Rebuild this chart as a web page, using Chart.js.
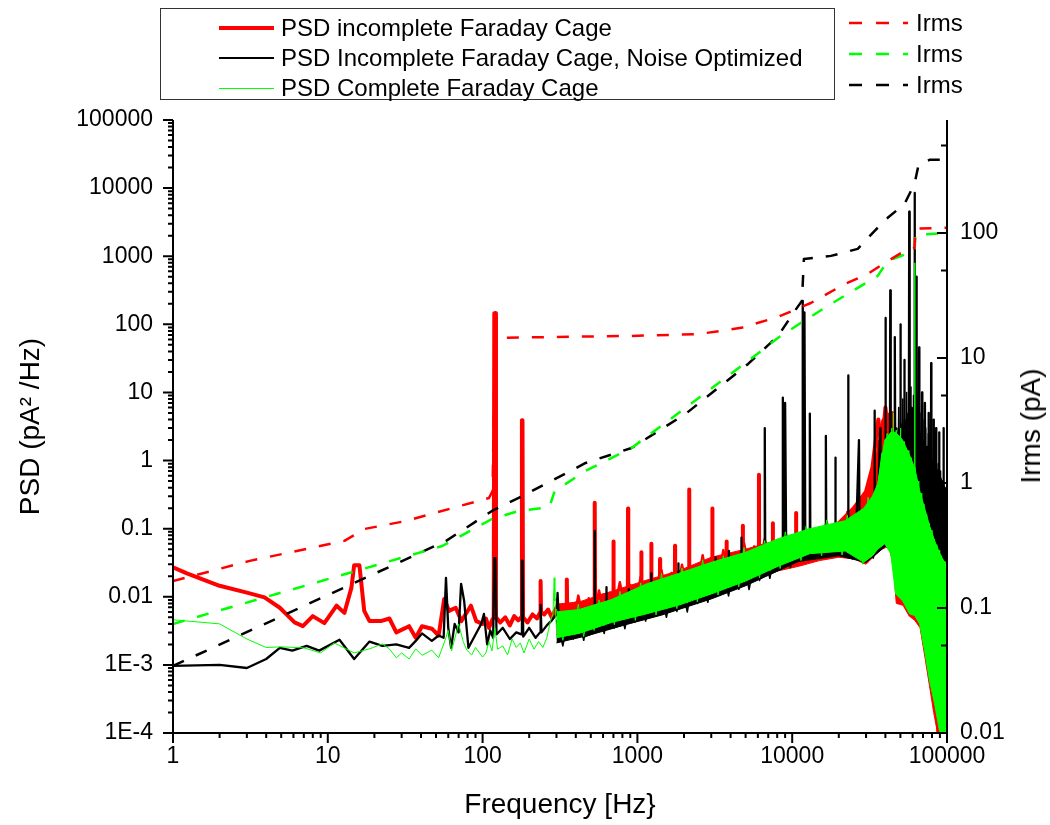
<!DOCTYPE html>
<html>
<head>
<meta charset="utf-8">
<script src="https://cdn.jsdelivr.net/npm/chart.js@4"></script>
<style>
html,body{margin:0;padding:0;background:#fff;}
#wrap{position:relative;width:1050px;height:825px;overflow:hidden;font-family:"Liberation Sans",Arial,sans-serif;color:#000;}
#c{position:absolute;left:0;top:0;}
.lgt{position:absolute;white-space:nowrap;font-size:24px;line-height:30px;height:30px;}
.smp{position:absolute;}
#legbox{position:absolute;left:160px;top:8px;width:675px;height:92px;border:1px solid #333;box-sizing:border-box;}
#rtitle{position:absolute;left:1031px;top:426px;transform:translate(-50%,-50%) rotate(-90deg);font-size:28px;white-space:nowrap;}
</style>
</head>
<body>
<div id="wrap">
<canvas id="c" width="1050" height="825"></canvas>
<div id="legbox"></div>
<div id="rtitle"></div>
</div>
<script>
// ---------- tick labels ----------
const xTicks = [1, 10, 100, 1000, 10000, 100000];
const xTickLabels = ['1', '10', '100', '1000', '10000', '100000'];
const yTicks = [1e-4, 1e-3, 0.01, 0.1, 1, 10, 100, 1000, 10000, 100000];
const yTickLabels = ['1E-4', '1E-3', '0.01', '0.1', '1', '10', '100', '1000', '10000', '100000'];
const y2Ticks = [0.01, 0.1, 1, 10, 100];
const y2TickLabels = ['0.01', '0.1', '1', '10', '100'];
const y2Minor = [0.05, 0.5, 5, 50, 500];

// ---------- legend texts / titles ----------
const psdNames = ['PSD incomplete Faraday Cage', 'PSD Incomplete Faraday Cage, Noise Optimized', 'PSD Complete Faraday Cage'];
const irmsNames = ['Irms', 'Irms', 'Irms'];
const xTitle = 'Frequency [Hz}';
const yTitle = 'PSD (pA\u00B2 /Hz)';
const y2Title = 'Irms (pA)';

// ---------- Irms (right axis), [freq Hz, pA] ----------
const irmsRed = [[1,0.164],[3.13,0.238],[12.8,0.344],[17.2,0.428],[32.1,0.497],[110,0.759],[116,0.863],[120,14.2],[127,14.5],[916,15.0],[2471,15.5],[4680,17.4],[8110,21.3],[13200,27.5],[21900,39.1],[30800,47],[39600,57.5],[53200,71.8],[61700,75.9],[62500,108],[100000,110]];
const irmsGreen = [[1,0.0745],[54.8,0.313],[115,0.515],[171,0.597],[270,0.64],[292,0.86],[463,1.25],[917,1.905],[2042,3.98],[5190,9.46],[8110,14.5],[11400,19.1],[17000,26.1],[35700,45.3],[41400,59.7],[61700,71.8],[62500,96.4],[100000,100]];
const irmsBlack = [[1,0.0344],[58.1,0.344],[115,0.597],[171,0.759],[463,1.445],[917,1.905],[2042,3.56],[5190,8.95],[8110,15.0],[10400,23.8],[11560,28.6],[11900,61.9],[17800,65.5],[26500,74.5],[34100,104],[41400,132],[53200,171],[61700,247],[65500,350],[77100,384],[100000,384]];

// ---------- PSD main traces (left axis), [freq Hz, pA^2/Hz] ----------
const redPSD = [[1,0.027],[1.23,0.022],[2,0.0145],[3,0.0115],[3.9,0.0098],[4.9,0.0069],[6.1,0.0042],[6.9,0.0037],[8,0.0052],[9.5,0.0041],[11.4,0.0074],[12.8,0.0058],[14.2,0.0135],[14.8,0.029],[16,0.029],[17.2,0.0062],[18.6,0.0044],[22,0.0044],[25,0.0048],[27.7,0.003],[33.5,0.0037],[37,0.0025],[40.6,0.0037],[47,0.0034],[52,0.0027],[56.5,0.0093],[60.7,0.0062],[67,0.0069],[73,0.0044],[84,0.0074],[91,0.0044],[100,0.004],[105,0.0048],[110,0.0035],[115,0.0045],[118,0.005],[119,145],[121,145],[122,0.005],[130,0.0042],[140,0.005],[150,0.0038],[160,0.0052],[170,0.0045],[178,0.005],[179.5,3.9],[181,3.9],[182.5,0.005],[195,0.0042],[210,0.0055],[225,0.0048],[236,0.006],[237,0.017],[238.5,0.006],[250,0.0055],[265,0.0065],[280,0.005],[300,0.007],[320,0.007],[348,0.007],[350,0.018],[352,0.007],[400,0.008],[450,0.0075],[528,0.009],[530,0.24],[533,0.009],[600,0.0105],[698,0.011],[700,0.065],[703,0.011],[780,0.012],[868,0.013],[870,0.197],[873,0.013],[950,0.014],[1058,0.015],[1060,0.045],[1063,0.015],[1228,0.017],[1230,0.06],[1233,0.017],[1398,0.018],[1400,0.036],[1403,0.018],[1600,0.02],[1747,0.021],[1750,0.056],[1753,0.021],[1950,0.022],[2155,0.024],[2160,0.375],[2165,0.024],[2600,0.027],[3045,0.029],[3050,0.197],[3055,0.029],[3400,0.03],[3765,0.032],[3770,0.065],[3775,0.032],[4300,0.035],[4795,0.037],[4800,0.11],[4805,0.037],[5500,0.04],[6090,0.043],[6100,0.62],[6110,0.043],[6800,0.047],[7490,0.05],[7500,0.12],[7510,0.05],[9000,0.055],[10590,0.06],[10600,0.17],[10610,0.06],[12000,0.07],[14000,0.09],[17000,0.1],[20000,0.12],[25000,0.2],[30000,0.35],[33000,0.8],[36000,4],[38000,1.5],[40000,6],[42000,2],[44000,5],[46000,0.5],[50000,0.2],[55000,0.1],[60000,0.07],[65000,0.05],[70000,0.02],[75000,0.005],[80000,0.001],[85000,0.0003],[88000,0.0001]];

const blackPSD = [[1,0.00097],[2,0.001],[3,0.0009],[4,0.00122],[4.9,0.00178],[5.9,0.00162],[7.3,0.0019],[8.8,0.00162],[11.9,0.00234],[14.8,0.00122],[18.6,0.0022],[22.5,0.0019],[27.7,0.002],[33.5,0.00178],[37,0.00225],[40.6,0.0029],[47,0.00225],[52,0.0027],[56,0.0025],[58,0.019],[60,0.0035],[62.6,0.00178],[66,0.004],[70,0.003],[72.6,0.0155],[76,0.0087],[81,0.00178],[90,0.0028],[98,0.004],[102,0.0056],[107,0.002],[112,0.0032],[117,0.0025],[119,0.037],[121,0.037],[123,0.0028],[135,0.0035],[150,0.0024],[165,0.003],[178,0.0028],[179.5,0.034],[181,0.034],[183,0.0026],[200,0.0035],[220,0.0025],[235,0.003],[237,0.0076],[240,0.003],[260,0.0038],[280,0.0045],[300,0.0055],[305,0.0114],[310,0.005],[330,0.0035],[360,0.0028],[400,0.0032],[450,0.0026],[528,0.003],[530,0.093],[533,0.003],[580,0.0035],[628,0.0045],[630,0.0138],[633,0.0045],[750,0.004],[878,0.005],[880,0.013],[883,0.005],[1000,0.0055],[1228,0.007],[1230,0.022],[1233,0.007],[1500,0.008],[1838,0.01],[1840,0.031],[1843,0.01],[2500,0.012],[3195,0.014],[3200,0.038],[3205,0.014],[3895,0.017],[3900,0.047],[3905,0.017],[4695,0.02],[4700,0.074],[4705,0.02],[5600,0.024],[6590,0.028],[6650,3],[6700,0.028],[7500,0.033],[8680,0.035],[8700,8.4],[8850,0.06],[9000,7],[9150,0.04],[10000,0.045],[11000,0.05],[11650,0.05],[11700,220],[11850,0.08],[12000,150],[12150,0.06],[12950,0.06],[13000,4.9],[13100,0.06],[14500,0.07],[16450,0.07],[16500,2.3],[16600,0.07],[18950,0.08],[19000,1.1],[19100,0.08],[21000,0.09],[22950,0.09],[23000,17.8],[23100,0.09],[26000,0.12],[27000,2],[27200,0.12],[30000,0.15],[33900,0.2],[34000,5.4],[34200,0.25],[36000,0.3],[37000,3],[37200,0.4],[39900,0.6],[40000,124],[40300,0.8],[42800,1],[43000,316],[43300,1.2],[45800,1.5],[46000,65],[46300,1.5],[48000,2],[49800,2],[50000,100],[50300,2],[52800,2],[53000,30],[53300,2],[56700,2],[57000,4500],[57400,2],[59000,3],[61400,3],[61700,8500],[62100,2.5],[63300,2.5],[63500,500],[63800,2],[65800,2],[66000,46],[66300,1.5],[68800,1.5],[69000,10],[69300,1.2],[71800,1.2],[72000,7],[72300,1],[75800,1],[76000,5],[76300,1],[78800,1],[79000,27],[79300,0.8],[81800,0.8],[82000,4],[82300,0.6],[84800,0.6],[85000,3],[85300,0.5],[88800,0.5],[89000,2.6],[89300,0.3],[92000,0.4],[94800,0.3],[95000,3],[95300,0.1],[98000,0.05],[100000,0.03]];

const greenPSD = [[1,0.0046],[2,0.004],[3,0.0024],[4,0.0018],[5,0.00184],[7,0.00178],[9,0.0015],[11,0.0021],[14.8,0.0015],[18.6,0.00172],[22.5,0.00203],[25,0.00172],[27.7,0.00127],[30,0.0015],[33.5,0.00122],[37,0.00172],[40.6,0.00138],[47,0.00165],[52,0.00127],[57,0.00225],[60,0.0032],[63,0.0016],[70,0.004],[75,0.0022],[79,0.00165],[85,0.0014],[90,0.0018],[100,0.0013],[105,0.0015],[110,0.0022],[115,0.0016],[120,0.0035],[125,0.0017],[135,0.0019],[145,0.0014],[155,0.0024],[165,0.0018],[175,0.0021],[185,0.0015],[200,0.0024],[215,0.0017],[230,0.0022],[245,0.0018],[260,0.0025],[275,0.0045],[285,0.0056],[290,0.019],[293,0.0087],[300,0.0035],[350,0.0045],[420,0.004],[500,0.0055],[600,0.005],[700,0.007],[850,0.0075],[1000,0.0095],[1300,0.011],[1600,0.014],[2000,0.015],[2500,0.019],[3000,0.02],[4000,0.026],[5000,0.028],[6000,0.035],[7000,0.036],[8000,0.045],[10000,0.05],[12000,0.06],[15000,0.07],[18000,0.08],[22000,0.085],[26000,0.1],[30000,0.12],[34000,0.2],[38000,0.5],[42000,1.2],[44800,1.2],[45000,5],[45300,1],[48000,1.2],[49800,1],[50000,3],[50300,0.8],[55000,0.5],[61500,0.5],[61800,800],[62100,0.4],[66000,0.15],[72000,0.05],[78000,0.01],[85000,0.002],[90000,0.0005],[95000,0.00015],[100000,0.0001]];

// ---------- read noise texture of the dense region, [freq Hz, pA^2/Hz] ----------
const redNoise = [[300,0.0094],[330,0.004],[355,0.0079],[385,0.0042],[415,0.0104],[450,0.0045],[485,0.0095],[525,0.005],[565,0.0124],[610,0.0057],[660,0.0114],[710,0.0064],[770,0.0163],[830,0.007],[900,0.0149],[970,0.0077],[1050,0.0196],[1130,0.0084],[1220,0.0176],[1320,0.0092],[1430,0.0247],[1540,0.01],[1660,0.0223],[1800,0.011],[1940,0.0295],[2100,0.0125],[2260,0.027],[2440,0.014],[2640,0.0408],[2850,0.016],[3080,0.039],[3320,0.018],[3590,0.0484],[3880,0.0205],[4190,0.0432],[4520,0.0235],[4880,0.062],[5270,0.027],[5690,0.055],[6150,0.031],[6640,0.07],[7170,0.036],[7740,0.064],[8360,0.043],[9030,0.089],[9750,0.05],[10500,0.079],[11400,0.058],[12300,0.099],[13300,0.064],[14300,0.088],[15500,0.066],[16700,0.126],[18000,0.068],[19500,0.121],[21000,0.068],[22700,0.176],[24500,0.06],[26500,0.207],[28600,0.05],[30900,0.46],[33400,0.06],[36000,2]];

const blackNoise = [[300,0.0045],[330,0.0019],[355,0.0048],[385,0.0024],[415,0.0052],[450,0.0023],[485,0.0058],[525,0.0031],[565,0.0065],[610,0.0029],[660,0.0074],[710,0.0035],[770,0.0081],[830,0.0034],[900,0.0088],[970,0.0043],[1050,0.0097],[1130,0.0044],[1220,0.0104],[1320,0.0055],[1430,0.0115],[1540,0.005],[1660,0.0126],[1800,0.0061],[1940,0.014],[2100,0.006],[2260,0.0158],[2440,0.008],[2640,0.018],[2850,0.0083],[3080,0.0203],[3320,0.0108],[3590,0.023],[3880,0.0103],[4190,0.0265],[4520,0.0129],[4880,0.03],[5270,0.0128],[5690,0.034],[6150,0.0174],[6640,0.04],[7170,0.0187],[7740,0.047],[8360,0.026],[9030,0.056],[9750,0.027],[10500,0.065],[11400,0.035],[12300,0.074],[13300,0.0366],[14300,0.079],[15500,0.041],[16700,0.081],[18000,0.0405],[19500,0.085],[21000,0.043],[22700,0.079],[24500,0.036],[26500,0.072],[28600,0.031],[30900,0.07],[33400,0.037],[36000,0.09],[38300,0.5],[39000,0.1],[39800,1.5],[40500,0.1],[41300,1],[42000,0.1],[42800,3],[43500,0.1],[44300,2],[45000,0.1],[45800,5],[46500,0.1],[47300,3],[48000,0.1],[48800,6],[49500,0.1],[50300,3.5],[51000,0.1],[51800,8],[52500,0.1],[53300,4],[54000,0.1],[54800,10],[55500,0.1],[56300,5],[57000,0.1],[57800,12],[58500,0.1],[59300,6],[60000,0.1],[60800,9],[61500,0.1],[62300,4],[63000,0.1],[63800,6],[64500,0.1],[65300,3],[66000,0.1],[66800,5],[67500,0.1],[68300,2.5],[69000,0.1],[69800,4],[70500,0.1],[71300,2],[72000,0.1],[72800,3],[73500,0.08],[74300,1.6],[75000,0.08],[75800,2.5],[76500,0.07],[77300,1.3],[78000,0.06],[78800,2],[79500,0.06],[80300,1],[81000,0.05],[81800,1.5],[82500,0.05],[83300,0.8],[84000,0.04],[84800,1.2],[85500,0.04],[86300,0.6],[87000,0.035],[87800,0.9],[88500,0.03],[89300,0.45],[90000,0.03],[90800,0.7],[91500,0.025],[92300,0.35],[93000,0.025],[93800,0.5],[94500,0.022],[95300,0.3],[96000,0.022],[96800,0.4],[97500,0.02],[98300,0.25],[99000,0.02],[99800,0.3]];

const greenNoise = [[300,0.0066],[330,0.0023],[355,0.0059],[385,0.0029],[415,0.0078],[450,0.0026],[485,0.007],[525,0.0032],[565,0.009],[610,0.0038],[660,0.0084],[710,0.0039],[770,0.012],[830,0.0048],[900,0.0117],[970,0.0045],[1050,0.016],[1130,0.0056],[1220,0.0154],[1320,0.0054],[1430,0.022],[1540,0.007],[1660,0.0205],[1800,0.0067],[1940,0.0265],[2100,0.0082],[2260,0.0242],[2440,0.0084],[2640,0.035],[2850,0.0111],[3080,0.0325],[3320,0.0106],[3590,0.04],[3880,0.0135],[4190,0.037],[4520,0.014],[4880,0.053],[5270,0.019],[5690,0.049],[6150,0.019],[6640,0.067],[7170,0.024],[7740,0.065],[8360,0.026],[9030,0.09],[9750,0.034],[10500,0.083],[11400,0.034],[12300,0.109],[13300,0.043],[14300,0.098],[15500,0.04],[16700,0.134],[18000,0.047],[19500,0.122],[21000,0.041],[22700,0.159],[24500,0.041],[26500,0.157],[28600,0.03],[30900,0.29],[33400,0.042],[36000,0.5],[38000,1.3],[38700,0.06],[39500,1.6],[40200,0.065],[41000,2.5],[41700,0.055],[42500,2.0],[43200,0.045],[44000,3.0],[44700,0.03],[45500,2.2],[46200,0.016],[47000,2.8],[47700,0.012],[48500,1.8],[49200,0.011],[50000,2.4],[50700,0.01],[51500,1.5],[52200,0.0095],[53000,1.9],[53700,0.0085],[54500,1.1],[55200,0.0075],[56000,1.4],[56700,0.0065],[57500,0.9],[58200,0.006],[59000,1.1],[59700,0.006],[60500,0.7],[61200,0.0058],[62000,0.8],[62700,0.0055],[63500,0.45],[64200,0.005],[65000,0.5],[65700,0.0045],[66500,0.3],[67200,0.0038],[68000,0.33],[68700,0.003],[69500,0.2],[70200,0.0024],[71000,0.23],[71700,0.0018],[72500,0.15],[73200,0.0014],[74000,0.16],[74700,0.001],[75500,0.1],[76200,0.00075],[77000,0.12],[77700,0.0006],[78500,0.08],[79200,0.0005],[80000,0.095],[80700,0.0004],[81500,0.065],[82200,0.00032],[83000,0.07],[83700,0.00026],[84500,0.05],[85200,0.00022],[86000,0.058],[86700,0.00018],[87500,0.042],[88200,0.00014],[89000,0.048],[89700,0.00011],[90500,0.038],[91200,0.0001],[92000,0.04],[93000,0.00009],[94000,0.035],[95000,0.00009],[96000,0.033],[97000,0.00009],[98000,0.03],[99000,0.00009],[100000,0.028]];

// ---------- dense region envelopes, [freq Hz, lower, upper] ----------
const redBand = [[300,0.0028,0.0078],[420,0.003,0.0084],[680,0.004,0.012],[1140,0.0055,0.0175],[1840,0.0072,0.024],[3000,0.011,0.038],[5000,0.016,0.05],[8100,0.024,0.068],[11000,0.028,0.078],[15000,0.034,0.092],[20000,0.038,0.12],[25000,0.036,0.185],[30000,0.03,0.32],[34000,0.04,0.8],[38000,0.05,4],[42000,0.055,5],[45000,0.03,3],[47000,0.008,1.5],[52000,0.0075,1.0],[57000,0.0052,0.7],[62000,0.0045,0.5],[67000,0.0035,0.35],[72000,0.0013,0.25],[77000,0.0005,0.18],[82000,0.0002,0.12],[87000,0.0001,0.1],[92000,0.00008,0.08],[100000,0.00008,0.06]];
const blackBand = [[300,0.0021,0.0045],[480,0.0027,0.0058],[880,0.004,0.0085],[1440,0.0054,0.0115],[3000,0.0093,0.02],[5000,0.0145,0.03],[8100,0.024,0.05],[11000,0.033,0.065],[20000,0.04,0.11],[30000,0.032,0.17],[36000,0.045,0.35],[40000,0.055,1.0],[45000,0.05,2],[50000,0.04,3],[55000,0.035,3],[60000,0.035,2.5],[65000,0.03,2],[70000,0.03,1.6],[75000,0.028,1.3],[80000,0.025,1],[85000,0.025,0.8],[90000,0.022,0.6],[95000,0.022,0.45],[100000,0.02,0.35]];
const greenBand = [[300,0.0025,0.006],[420,0.0029,0.0065],[680,0.0042,0.0091],[1140,0.0056,0.0154],[1840,0.0075,0.022],[3000,0.011,0.032],[5000,0.017,0.045],[8100,0.028,0.071],[13000,0.043,0.1],[22000,0.047,0.131],[29000,0.032,0.2],[33000,0.04,0.3],[35700,0.05,0.46],[39600,0.06,2.0],[43300,0.043,2.6],[46600,0.011,2.6],[51700,0.0087,2.0],[57400,0.0056,1.19],[61800,0.0053,0.79],[66600,0.004,0.36],[71700,0.0016,0.2],[77200,0.00058,0.11],[83100,0.00027,0.067],[89500,0.000107,0.044],[95000,0.00009,0.034],[100000,0.00009,0.03]];

const RED = '#ff0000', BLACK = '#000000', GREEN = '#00ff00';
const FONT = '"Liberation Sans", Arial, sans-serif';

function pts(a) { return a.map(p => ({x: p[0], y: p[1]})); }
function bandPts(a, k) { return a.map(p => ({x: p[0], y: p[k]})); }

const dashed = {borderWidth: 2.5, borderDash: [12, 13], yAxisID: 'y2', fill: false};
const datasets = [
  Object.assign({label: 'Irms red', data: pts(irmsRed), borderColor: RED, order: 0}, dashed),
  Object.assign({label: 'Irms green', data: pts(irmsGreen), borderColor: GREEN, order: 1}, dashed),
  Object.assign({label: 'Irms black', data: pts(irmsBlack), borderColor: BLACK, order: 2}, dashed),

  {label: 'green', data: pts(greenPSD), borderColor: GREEN, borderWidth: 1, yAxisID: 'y', order: 3, fill: false},
  {label: 'green noise', data: pts(greenNoise), borderColor: GREEN, borderWidth: 1, yAxisID: 'y', order: 4, fill: false},
  {label: 'green lo', data: bandPts(greenBand, 1), borderColor: GREEN, borderWidth: 1, yAxisID: 'y', order: 6, fill: false},
  {label: 'green hi', data: bandPts(greenBand, 2), borderColor: GREEN, borderWidth: 1, backgroundColor: GREEN, yAxisID: 'y', order: 5, fill: '-1'},

  {label: 'black', data: pts(blackPSD), borderColor: BLACK, borderWidth: 2.3, yAxisID: 'y', order: 7, fill: false},
  {label: 'black noise', data: pts(blackNoise), borderColor: BLACK, borderWidth: 1.6, yAxisID: 'y', order: 8, fill: false},
  {label: 'black lo', data: bandPts(blackBand, 1), borderColor: BLACK, borderWidth: 1, yAxisID: 'y', order: 10, fill: false},
  {label: 'black hi', data: bandPts(blackBand, 2), borderColor: BLACK, borderWidth: 1, backgroundColor: BLACK, yAxisID: 'y', order: 9, fill: '-1'},

  {label: 'red', data: pts(redPSD), borderColor: RED, borderWidth: 4, yAxisID: 'y', order: 11, fill: false},
  {label: 'red noise', data: pts(redNoise), borderColor: RED, borderWidth: 2.5, yAxisID: 'y', order: 12, fill: false},
  {label: 'red lo', data: bandPts(redBand, 1), borderColor: RED, borderWidth: 1, yAxisID: 'y', order: 14, fill: false},
  {label: 'red hi', data: bandPts(redBand, 2), borderColor: RED, borderWidth: 1, backgroundColor: RED, yAxisID: 'y', order: 13, fill: '-1'}
];

const axesPlugin = {
  id: 'axesTicks',
  afterDraw(chart) {
    const ctx = chart.ctx, a = chart.chartArea;
    const sx = chart.scales.x, sy = chart.scales.y, sy2 = chart.scales.y2;
    ctx.save();
    ctx.strokeStyle = '#000';
    ctx.lineWidth = 2;
    ctx.lineCap = 'butt';
    ctx.beginPath();
    ctx.moveTo(a.left, a.top); ctx.lineTo(a.left, a.bottom + 1);
    ctx.moveTo(a.left - 1, a.bottom); ctx.lineTo(a.right + 1, a.bottom);
    ctx.moveTo(a.right, a.top); ctx.lineTo(a.right, a.bottom + 1);
    for (let d = 0; d <= 5; d++) {
      for (let k = 1; k <= 9; k++) {
        if (d === 5 && k > 1) break;
        const px = sx.getPixelForValue(k * Math.pow(10, d));
        const len = k === 1 ? 10 : 5;
        ctx.moveTo(px, a.bottom); ctx.lineTo(px, a.bottom + len);
      }
    }
    for (let d = -4; d <= 5; d++) {
      for (let k = 1; k <= 9; k++) {
        if (d === 5 && k > 1) break;
        const py = sy.getPixelForValue(k * Math.pow(10, d));
        const len = k === 1 ? 10 : 5;
        ctx.moveTo(a.left, py); ctx.lineTo(a.left - len, py);
      }
    }
    y2Ticks.forEach(v => { const py = sy2.getPixelForValue(v); ctx.moveTo(a.right, py); ctx.lineTo(a.right - 10, py); });
    y2Minor.forEach(v => { const py = sy2.getPixelForValue(v); if (py >= a.top) { ctx.moveTo(a.right, py); ctx.lineTo(a.right - 6, py); } });
    ctx.stroke();
    ctx.restore();
  }
};

Chart.defaults.font.family = FONT;
Chart.defaults.color = '#000';

new Chart(document.getElementById('c'), {
  type: 'line',
  data: {datasets},
  options: {
    responsive: false,
    animation: false,
    events: [],
    layout: {padding: {top: 120, left: 0, right: 0, bottom: 0}},
    elements: {point: {radius: 0, hoverRadius: 0}, line: {tension: 0, borderJoinStyle: 'round', borderCapStyle: 'butt'}},
    plugins: {legend: {display: false}, tooltip: {enabled: false}},
    scales: {
      x: {
        type: 'logarithmic', min: 1, max: 100000, position: 'bottom',
        afterBuildTicks: s => { s.ticks = xTicks.map(v => ({value: v})); },
        afterFit: s => { s.height = 92; },
        ticks: {callback: v => xTickLabels[xTicks.indexOf(v)], font: {size: 23}, color: '#000', padding: 10, maxRotation: 0, autoSkip: false},
        grid: {display: false, drawTicks: false},
        border: {display: false},
        title: {display: true, text: xTitle, font: {size: 28}, color: '#000', padding: {top: 0, bottom: 3}}
      },
      y: {
        type: 'logarithmic', min: 1e-4, max: 1e5, position: 'left',
        afterBuildTicks: s => { s.ticks = yTicks.map(v => ({value: v})); },
        afterFit: s => { s.width = 173; },
        ticks: {callback: v => yTickLabels[yTicks.indexOf(v)], font: {size: 23}, color: '#000', padding: 20, autoSkip: false},
        grid: {display: false, drawTicks: false},
        border: {display: false},
        title: {display: true, text: yTitle, font: {size: 28}, color: '#000', padding: {top: 14, bottom: 0}}
      },
      y2: {
        type: 'logarithmic', min: 0.01, max: 800, position: 'right',
        afterBuildTicks: s => { s.ticks = y2Ticks.map(v => ({value: v})); },
        afterFit: s => { s.width = 103; },
        ticks: {callback: v => y2TickLabels[y2Ticks.indexOf(v)], font: {size: 23}, color: '#000', padding: 13, autoSkip: false},
        grid: {display: false, drawTicks: false},
        border: {display: false},
        title: {display: false}
      }
    }
  },
  plugins: [axesPlugin]
});

// ---------- HTML legends & right title ----------
const wrap = document.getElementById('wrap');
document.getElementById('rtitle').textContent = y2Title;
const psdStyles = [{c: RED, w: 4}, {c: BLACK, w: 2.5}, {c: GREEN, w: 1}];
const psdRowY = [28, 58, 88];
psdNames.forEach((t, i) => {
  const s = document.createElement('div');
  s.className = 'smp';
  s.style.left = '219px'; s.style.width = '55px';
  s.style.top = (psdRowY[i] - psdStyles[i].w / 2) + 'px';
  s.style.height = psdStyles[i].w + 'px';
  s.style.background = psdStyles[i].c;
  wrap.appendChild(s);
  const d = document.createElement('div');
  d.className = 'lgt';
  d.style.left = '281px'; d.style.top = (psdRowY[i] - 15) + 'px';
  d.textContent = t;
  wrap.appendChild(d);
});
const irmsColors = [RED, GREEN, BLACK];
const irmsRowY = [23, 54, 85];
irmsNames.forEach((t, i) => {
  const svgNS = 'http://www.w3.org/2000/svg';
  const svg = document.createElementNS(svgNS, 'svg');
  svg.setAttribute('width', '60'); svg.setAttribute('height', '6');
  svg.style.position = 'absolute'; svg.style.left = '849px'; svg.style.top = (irmsRowY[i] - 3) + 'px';
  const ln = document.createElementNS(svgNS, 'line');
  ln.setAttribute('x1', '0'); ln.setAttribute('x2', '59'); ln.setAttribute('y1', '3'); ln.setAttribute('y2', '3');
  ln.setAttribute('stroke', irmsColors[i]); ln.setAttribute('stroke-width', '2.5');
  ln.setAttribute('stroke-dasharray', '13 14');
  svg.appendChild(ln);
  wrap.appendChild(svg);
  const d = document.createElement('div');
  d.className = 'lgt';
  d.style.left = '916px'; d.style.top = (irmsRowY[i] - 15) + 'px';
  d.textContent = t;
  wrap.appendChild(d);
});
</script>
</body>
</html>
